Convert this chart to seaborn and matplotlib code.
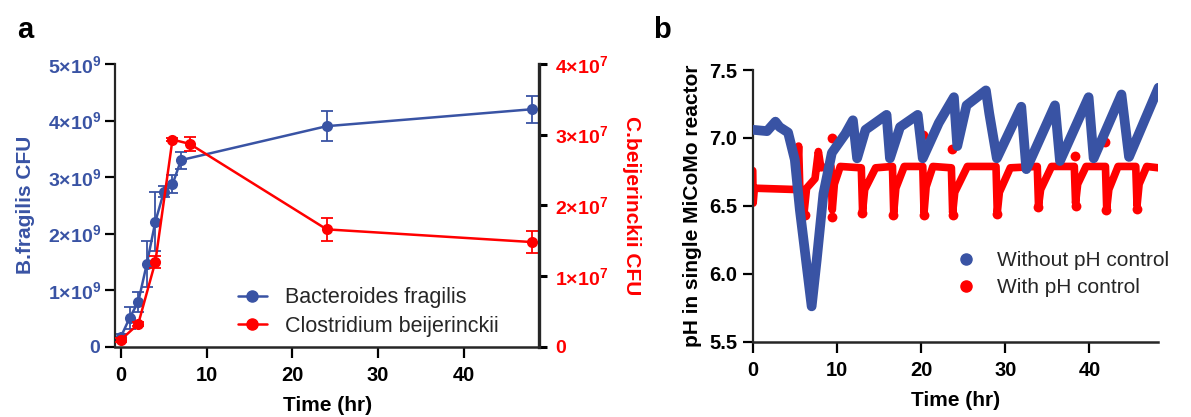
import matplotlib
matplotlib.use("Agg")
import matplotlib.pyplot as plt
from matplotlib.lines import Line2D
import seaborn as sns

# ---- panel a: CFU over time ----
bf_time = [0, 1, 2, 3, 4, 5, 6, 7, 24, 48]
bf_cfu = [0.18e9, 0.51e9, 0.79e9, 1.46e9, 2.21e9, 2.74e9, 2.87e9, 3.30e9, 3.90e9, 4.20e9]
bf_err = [0.05e9, 0.19e9, 0.17e9, 0.41e9, 0.52e9, 0.10e9, 0.16e9, 0.15e9, 0.26e9, 0.24e9]

cb_time = [0, 2, 4, 6, 8, 24, 48]
cb_cfu = [0.10e7, 0.32e7, 1.20e7, 2.93e7, 2.87e7, 1.66e7, 1.48e7]
cb_err = [0.03e7, 0.03e7, 0.09e7, 0.02e7, 0.10e7, 0.16e7, 0.15e7]

bf_ticks = [0, 1e9, 2e9, 3e9, 4e9, 5e9]
bf_ticklabels = ["$\\mathbf{0}$", "$\\mathbf{1{\\times}10^{9}}$", "$\\mathbf{2{\\times}10^{9}}$",
                 "$\\mathbf{3{\\times}10^{9}}$", "$\\mathbf{4{\\times}10^{9}}$", "$\\mathbf{5{\\times}10^{9}}$"]
cb_ticks = [0, 1e7, 2e7, 3e7, 4e7]
cb_ticklabels = ["$\\mathbf{0}$", "$\\mathbf{1{\\times}10^{7}}$", "$\\mathbf{2{\\times}10^{7}}$",
                 "$\\mathbf{3{\\times}10^{7}}$", "$\\mathbf{4{\\times}10^{7}}$"]

# ---- panel b: pH traces ----
noctrl_time = [0, 1.7, 2.7, 3.2, 4.2, 5.0, 5.6, 7.0, 7.6, 8.4, 9.4, 11.0, 11.9, 12.4,
               13.4, 15.9, 16.3, 17.5, 19.6, 20.2, 22.1, 23.9, 24.3, 25.4, 27.7, 28.1,
               29.0, 31.9, 32.5, 35.9, 36.5, 39.9, 40.5, 43.8, 44.7, 48.2]
noctrl_ph = [7.06, 7.05, 7.12, 7.08, 7.04, 6.84, 6.47, 5.76, 6.10, 6.59, 6.89, 7.03, 7.13, 6.85,
             7.06, 7.17, 6.85, 7.08, 7.17, 6.85, 7.11, 7.30, 6.94, 7.24, 7.35, 7.18,
             6.85, 7.23, 6.77, 7.24, 6.83, 7.30, 6.85, 7.32, 6.86, 7.37]

ctrl_time = [0, 0.05, 0.2, 5.2, 5.45, 5.6, 6.1, 6.4, 7.4, 7.8, 8.1, 9.3, 9.45, 9.7, 10.4,
             12.9, 13.05, 13.3, 14.6, 16.6, 16.75, 17.0, 18.0, 20.2, 20.35, 20.6, 21.4,
             23.6, 23.75, 24.0, 25.5, 28.9, 29.05, 29.3, 30.6, 33.8, 33.95, 34.2, 35.5,
             38.2, 38.35, 38.6, 39.6, 41.9, 42.05, 42.3, 43.4, 45.5, 45.65, 45.9, 46.8, 48.2]
ctrl_ph = [6.76, 6.52, 6.63, 6.62, 6.94, 6.62, 6.45, 6.63, 6.70, 6.90, 6.78, 6.79, 6.47, 6.66, 6.79,
           6.78, 6.46, 6.62, 6.78, 6.79, 6.45, 6.63, 6.79, 6.79, 6.45, 6.64, 6.79,
           6.78, 6.45, 6.60, 6.79, 6.79, 6.45, 6.60, 6.78, 6.79, 6.50, 6.62, 6.79,
           6.79, 6.52, 6.66, 6.79, 6.79, 6.48, 6.62, 6.79, 6.79, 6.50, 6.66, 6.79, 6.78]

# isolated readings
ctrl_dot_time = [6.2, 9.4, 9.45, 13.0, 16.7, 20.2, 20.3, 23.7, 23.8, 29.0, 33.9, 38.3, 38.4, 41.9, 42.0, 45.6]
ctrl_dot_ph = [6.43, 7.00, 6.42, 6.45, 6.43, 7.02, 6.43, 6.92, 6.43, 6.44, 6.49, 6.87, 6.50, 6.97, 6.47, 6.48]

BLUE = "#3953A4"
RED = "#FF0000"

sns.set_theme(style="ticks")
plt.rcParams["font.family"] = ["Liberation Sans", "DejaVu Sans"]
plt.rcParams["font.weight"] = "bold"
plt.rcParams["mathtext.fontset"] = "custom"
plt.rcParams["mathtext.rm"] = "Liberation Sans"
plt.rcParams["mathtext.bf"] = "Liberation Sans:bold"

fig = plt.figure(figsize=(11.91, 4.17), dpi=100)

# ================= panel a =================
ax = fig.add_axes([0.0966, 0.1686, 0.3562, 0.678])
ax2 = ax.twinx()

sns.lineplot(x=bf_time, y=bf_cfu, ax=ax, color=BLUE, marker="o", markersize=8,
             markeredgewidth=0, linewidth=1.8, legend=False)
ax.errorbar(bf_time, bf_cfu, yerr=bf_err, fmt="none", ecolor=BLUE, elinewidth=1.3,
            capsize=4, capthick=1.3)

sns.lineplot(x=cb_time, y=cb_cfu, ax=ax2, color=RED, marker="o", markersize=8,
             markeredgewidth=0, linewidth=1.8, legend=False)
ax2.errorbar(cb_time, cb_cfu, yerr=cb_err, fmt="none", ecolor=RED, elinewidth=1.3,
             capsize=4, capthick=1.3)

ax.set_xlim(-0.7, 48.8)
ax.set_ylim(0, 5e9)
ax2.set_ylim(0, 4e7)
ax.set_xticks([0, 10, 20, 30, 40])
ax.set_yticks(bf_ticks, bf_ticklabels)
ax2.set_yticks(cb_ticks, cb_ticklabels)

for a in (ax, ax2):
    a.spines["top"].set_visible(False)
ax.spines["right"].set_visible(False)
ax2.spines["left"].set_visible(False)
ax2.spines["bottom"].set_visible(False)
ax.spines["left"].set_linewidth(1.6)
ax.spines["bottom"].set_linewidth(1.8)
ax2.spines["right"].set_linewidth(2.4)

ax.tick_params(axis="x", length=8, width=1.6, pad=6, labelsize=14.5, colors="black")
ax.tick_params(axis="y", length=7, width=1.6, pad=3, labelsize=14, colors="black",
               labelcolor=BLUE)
ax2.tick_params(axis="y", length=6, width=2.2, pad=5, labelsize=14, colors="black",
                labelcolor=RED)
for lab in ax.get_xticklabels():
    lab.set_fontweight("bold")

ax.set_xlabel("Time (hr)", fontsize=15, fontweight="bold", color="black", labelpad=8)
ax.set_ylabel("B.fragilis CFU", fontsize=15, fontweight="bold", color=BLUE, labelpad=9)
ax2.set_ylabel("C.beijerinckii CFU", fontsize=15, fontweight="bold", color=RED,
               rotation=270, labelpad=24)

handles_a = [Line2D([], [], color=BLUE, marker="o", markersize=8, linewidth=1.8),
             Line2D([], [], color=RED, marker="o", markersize=8, linewidth=1.8)]
fig.legend(handles_a, ["Bacteroides fragilis", "Clostridium beijerinckii"],
           loc="upper left", bbox_to_anchor=(0.1998, 0.3113), frameon=False,
           prop={"size": 15.5, "weight": "normal"}, handlelength=1.35,
           handletextpad=0.84, borderpad=0, borderaxespad=0, labelspacing=0.35)

fig.text(0.014, 0.91, "a", fontsize=21, fontweight="bold", color="black")

# ================= panel b =================
bx = fig.add_axes([0.632, 0.1806, 0.3407, 0.6515])

sns.lineplot(x=ctrl_time, y=ctrl_ph, ax=bx, color=RED, linewidth=5.5, sort=False,
             legend=False, zorder=2, solid_joinstyle="round", solid_capstyle="round")
sns.scatterplot(x=ctrl_dot_time, y=ctrl_dot_ph, ax=bx, color=RED, s=50, linewidth=0,
                legend=False, zorder=2)
sns.lineplot(x=noctrl_time, y=noctrl_ph, ax=bx, color=BLUE, linewidth=7, sort=False,
             legend=False, zorder=3, solid_joinstyle="round", solid_capstyle="round")

bx.set_xlim(0, 48.2)
bx.set_ylim(5.5, 7.5)
bx.set_xticks([0, 10, 20, 30, 40])
bx.set_yticks([5.5, 6.0, 6.5, 7.0, 7.5], ["5.5", "6.0", "6.5", "7.0", "7.5"])
bx.spines["top"].set_visible(False)
bx.spines["right"].set_visible(False)
bx.spines["left"].set_linewidth(1.6)
bx.spines["bottom"].set_linewidth(1.8)
bx.tick_params(axis="x", length=8, width=1.6, pad=6, labelsize=14.5, colors="black")
bx.tick_params(axis="y", length=7, width=1.6, pad=4, labelsize=14.5, colors="black")
for lab in bx.get_xticklabels() + bx.get_yticklabels():
    lab.set_fontweight("bold")
bx.set_xlabel("Time (hr)", fontsize=15, fontweight="bold", color="black", labelpad=8)
bx.set_ylabel("pH in single MiCoMo reactor", fontsize=15, fontweight="bold",
              color="black", labelpad=5)

handles_b = [Line2D([], [], color=BLUE, marker="o", linestyle="none", markersize=8),
             Line2D([], [], color=RED, marker="o", linestyle="none", markersize=8)]
fig.legend(handles_b, ["Without pH control", "With pH control"], loc="upper left",
           bbox_to_anchor=(0.8024, 0.3977), frameon=False,
           prop={"size": 15, "weight": "normal"}, handlelength=1.0, handletextpad=1.0,
           borderpad=0, borderaxespad=0, labelspacing=0.4)

fig.text(0.548, 0.91, "b", fontsize=21, fontweight="bold", color="black")

fig.savefig("out.png", dpi=100)
